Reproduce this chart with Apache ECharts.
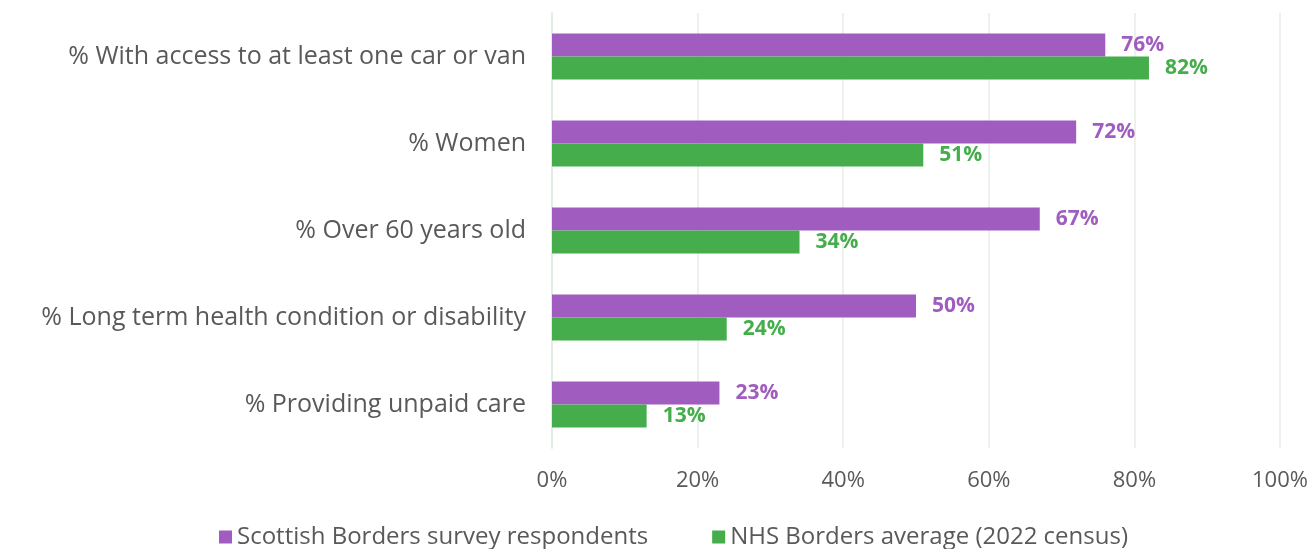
<!DOCTYPE html>
<html>
<head>
<meta charset="utf-8">
<script src="https://cdn.jsdelivr.net/npm/echarts@6/dist/echarts.min.js"></script>
<style>html,body{margin:0;padding:0;background:#fff;}#c{width:1312px;height:549px;}</style>
</head>
<body>
<div id="c"></div>
<script>
const categories = [
  '% With access to at least one car or van',
  '% Women',
  '% Over 60 years old',
  '% Long term health condition or disability',
  '% Providing unpaid care'
];
const surveyValues = [76, 72, 67, 50, 23];
const censusValues = [82, 51, 34, 24, 13];
const seriesNames = ['Scottish Borders survey respondents', 'NHS Borders average (2022 census)'];
const xTicks = [0, 20, 40, 60, 80, 100];

const FONT = '"Open Sans", "Noto Sans", sans-serif';
const chart = echarts.init(document.getElementById('c'));
chart.setOption({
  animation: false,
  textStyle: { fontFamily: FONT },
  grid: { left: 552, right: 32, top: 13, height: 435, containLabel: false },
  legend: {
    bottom: -5, left: 214,
    itemWidth: 13, itemHeight: 13, itemGap: 64,
    icon: 'rect',
    textStyle: { fontSize: 24, color: '#595959', fontFamily: FONT },
    data: seriesNames
  },
  xAxis: {
    type: 'value', min: 0, max: 100, interval: 20,
    axisLabel: { formatter: v => xTicks.includes(v) ? v + '%' : '', fontSize: 22, color: '#595959', margin: 22 },
    axisLine: { show: false }, axisTick: { show: false },
    splitLine: { lineStyle: { color: '#ecf1ec', width: 2 } }
  },
  yAxis: {
    type: 'category', data: categories, inverse: true,
    axisLine: { show: true, lineStyle: { color: '#e3efe3', width: 2 } },
    axisTick: { show: false },
    axisLabel: { fontSize: 25, color: '#595959', margin: 26 }
  },
  series: [
    {
      name: seriesNames[0], type: 'bar', data: surveyValues,
      barWidth: 23, barGap: '0%',
      itemStyle: { color: '#a05dbf' },
      label: { show: true, position: 'right', distance: 16, formatter: '{c}%', fontSize: 21, fontWeight: 'bold', color: '#a05dbf' }
    },
    {
      name: seriesNames[1], type: 'bar', data: censusValues,
      barWidth: 23, barGap: '0%',
      itemStyle: { color: '#45ad4c' },
      label: { show: true, position: 'right', distance: 16, formatter: '{c}%', fontSize: 21, fontWeight: 'bold', color: '#45ad4c' }
    }
  ]
});
</script>
</body>
</html>
